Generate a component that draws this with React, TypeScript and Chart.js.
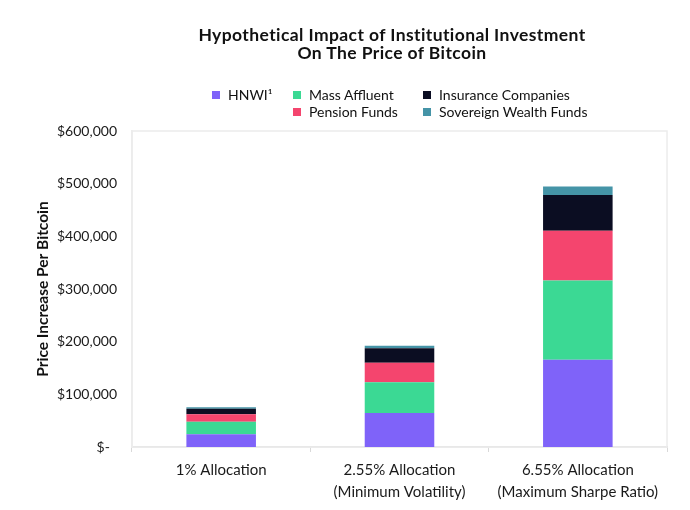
import React, { useEffect, useRef } from 'react';
import { Chart, registerables } from 'chart.js';

Chart.register(...registerables);

// values (USD price increase per bitcoin)
const categories = [
  ['1% Allocation'],
  ['2.55% Allocation', '(Minimum Volatility)'],
  ['6.55% Allocation', '(Maximum Sharpe Ratio)'],
];
const hnwi = [24100, 64500, 165700];
const massAffluent = [23900, 58300, 150600];
const pensionFunds = [14000, 37200, 94100];
const insuranceCompanies = [10700, 27300, 68300];
const sovereignWealthFunds = [2600, 4900, 16000];

const seriesNames = ['HNWI¹', 'Mass Affluent', 'Pension Funds', 'Insurance Companies', 'Sovereign Wealth Funds'];
const seriesColors = ['#7f63f9', '#3bd994', '#f4456e', '#0b0d22', '#4594a7'];

const yTicks = [0, 100000, 200000, 300000, 400000, 500000, 600000];

const FONT = "Lato, 'Noto Sans', sans-serif";

// faint frame around the plot area
const framePlugin = {
  id: 'plotFrame',
  beforeDatasetsDraw(chart: any) {
    const { ctx, chartArea } = chart;
    ctx.save();
    ctx.strokeStyle = '#ececec';
    ctx.lineWidth = 1.5;
    ctx.strokeRect(chartArea.left, chartArea.top, chartArea.right - chartArea.left, chartArea.bottom - chartArea.top);
    ctx.restore();
  },
};

// legend laid out like the original: 3 columns, blank under HNWI
const legendCells = [
  { idx: 0, col: 0, row: 0 },
  { idx: 1, col: 1, row: 0 },
  { idx: 3, col: 2, row: 0 },
  { idx: 2, col: 1, row: 1 },
  { idx: 4, col: 2, row: 1 },
];
const legendColX = [204, 285, 415];

const App: React.FC = () => {
  const canvasRef = useRef<HTMLCanvasElement>(null);

  useEffect(() => {
    if (!canvasRef.current) return;
    const values = [hnwi, massAffluent, pensionFunds, insuranceCompanies, sovereignWealthFunds];
    const chart = new Chart(canvasRef.current, {
      type: 'bar',
      data: {
        labels: categories,
        datasets: values.map((v, i) => ({
          label: seriesNames[i],
          data: v,
          backgroundColor: seriesColors[i],
          borderWidth: 0,
          barPercentage: 0.39,
          categoryPercentage: 1,
        })),
      },
      options: {
        animation: false,
        responsive: true,
        maintainAspectRatio: false,
        layout: { padding: { top: 123, right: 15, left: 26, bottom: -8 } },
        plugins: {
          legend: { display: false },
          title: { display: false },
          tooltip: { enabled: false },
        },
        scales: {
          x: {
            stacked: true,
            grid: {
              display: true,
              drawOnChartArea: false,
              drawTicks: true,
              tickLength: 5,
              color: '#d9d9d9',
              offset: true,
            },
            border: { color: '#d9d9d9', width: 1.5 },
            ticks: {
              color: '#1a1a1a',
              font: { family: FONT, size: 15, lineHeight: '22px' },
              padding: 7,
              maxRotation: 0,
            },
          },
          y: {
            stacked: true,
            min: 0,
            max: 600000,
            afterBuildTicks: (scale: any) => {
              scale.ticks = yTicks.map((value) => ({ value }));
            },
            afterFit: (scale: any) => {
              scale.width = 98;
            },
            grid: { display: false, drawTicks: false },
            border: { color: '#ececec', width: 1.5 },
            ticks: {
              color: '#1a1a1a',
              font: { family: FONT, size: 14 },
              padding: 15,
              callback: (v: any) => (v === 0 ? '$-\u00a0\u00a0' : '$' + Number(v).toLocaleString('en-US')),
            },
            title: {
              display: true,
              text: 'Price Increase Per Bitcoin',
              color: '#111',
              font: { family: FONT, size: 15.5, weight: 'bold', lineHeight: '18px' },
              padding: { top: 0, bottom: 4 },
            },
          },
        },
      },
      plugins: [framePlugin],
    });
    return () => chart.destroy();
  }, []);

  return (
    <div style={{ position: 'relative', width: 674, height: 494, fontFamily: FONT, color: '#111' }}>
      <canvas ref={canvasRef} />
      <div
        style={{
          position: 'absolute',
          top: 18,
          left: 134,
          width: 500,
          textAlign: 'center',
          fontWeight: 700,
          fontSize: 17.5,
          letterSpacing: 0.4,
          lineHeight: '18px',
        }}
      >
        Hypothetical Impact of Institutional Investment
        <br />
        On The Price of Bitcoin
      </div>
      {legendCells.map((c) => (
        <div
          key={c.idx}
          style={{
            position: 'absolute',
            left: legendColX[c.col],
            top: 78 + c.row * 17,
            height: 17,
            display: 'flex',
            alignItems: 'center',
            fontSize: 14,
            whiteSpace: 'nowrap',
          }}
        >
          <span style={{ width: 8, height: 8, background: seriesColors[c.idx], marginRight: 8, display: 'inline-block' }} />
          {seriesNames[c.idx]}
        </div>
      ))}
    </div>
  );
};

export default App;
